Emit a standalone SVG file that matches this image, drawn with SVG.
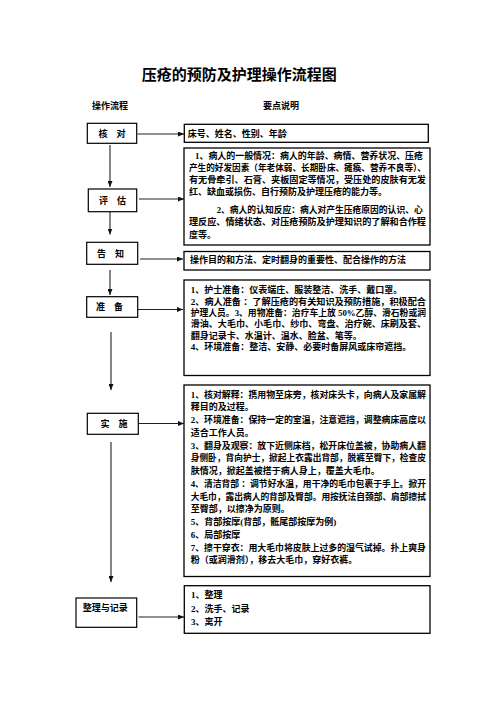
<svg xmlns="http://www.w3.org/2000/svg" width="496" height="702" viewBox="0 0 496 702">
<defs>
<marker id="ah" markerUnits="userSpaceOnUse" markerWidth="6" markerHeight="5" refX="6" refY="2.5" orient="auto">
<path d="M0,0 L6,2.5 L0,5 Z" fill="#111"/>
</marker>
<style>
.bx{fill:#fff;stroke:#000;stroke-width:1.2}
.rb{fill:#fff;stroke:#000;stroke-width:1.3}
.t{font-family:"Liberation Serif","Noto Sans CJK SC",serif;font-weight:bold;font-size:9px;fill:#000}
.c{text-anchor:middle}
.ttl{font-family:"Noto Sans CJK SC",sans-serif;font-weight:bold;font-size:15px;fill:#000;text-anchor:middle}
.cn line{stroke:#222;stroke-width:1.1;fill:none}
</style>
</defs>
<rect width="496" height="702" fill="#fff"/>
<text class="ttl" x="239.2" y="79.5">压疮的预防及护理操作流程图</text>
<text class="t c" x="110" y="109.3">操作流程</text>
<text class="t c" x="281" y="109.3">要点说明</text>

<g id="connectors" class="cn">
<line x1="137.5" y1="134" x2="184" y2="134" marker-end="url(#ah)"/>
<line x1="139" y1="199" x2="184" y2="199" marker-end="url(#ah)"/>
<line x1="140" y1="259" x2="183" y2="259" marker-end="url(#ah)"/>
<line x1="136" y1="309.5" x2="183" y2="309.5" marker-end="url(#ah)"/>
<line x1="139" y1="423.5" x2="184" y2="423.5" marker-end="url(#ah)"/>
<line x1="138.5" y1="617" x2="184" y2="617" marker-end="url(#ah)"/>
<line x1="110" y1="145" x2="110" y2="187" marker-end="url(#ah)"/>
<line x1="110" y1="212" x2="110" y2="234.5" marker-end="url(#ah)"/>
<line x1="110" y1="270" x2="110" y2="295" marker-end="url(#ah)"/>
<line x1="111" y1="332" x2="111" y2="390" marker-end="url(#ah)"/>
<line x1="111" y1="442" x2="111" y2="582" marker-end="url(#ah)"/>
</g>

<g id="n-hedui">
<rect class="bx" x="87.3" y="123.3" width="49.4" height="20"/>
<text class="t c" x="112" y="137.3">核　对</text>
</g>
<g id="n-hedui-d">
<rect class="rb" x="184.3" y="124.3" width="244" height="18"/>
<text class="t" x="187.7" y="136.6">床号、姓名、性别、年龄</text>
</g>

<g id="n-pinggu">
<rect class="bx" x="88.3" y="189" width="48.4" height="22.7"/>
<text class="t c" x="112.5" y="203.6">评　估</text>
</g>
<g id="n-pinggu-d">
<rect class="rb" x="184" y="148" width="246" height="97"/>
<text class="t" x="195" y="159" textLength="228" lengthAdjust="spacingAndGlyphs">1、病人的一般情况：病人的年龄、病情、营养状况、压疮</text>
<text class="t" x="189" y="171.3" textLength="237" lengthAdjust="spacingAndGlyphs">产生的好发因素（年老体弱、长期卧床、瘫痪、营养不良等）、</text>
<text class="t" x="189" y="183.3" textLength="237" lengthAdjust="spacingAndGlyphs">有无骨牵引、石膏、夹板固定等情况，受压处的皮肤有无发</text>
<text class="t" x="189" y="195">红、缺血或损伤、自行预防及护理压疮的能力等。</text>
<text class="t" x="216.7" y="213.3" textLength="206" lengthAdjust="spacingAndGlyphs">2、病人的认知反应：病人对产生压疮原因的认识、心</text>
<text class="t" x="189" y="225" textLength="237" lengthAdjust="spacingAndGlyphs">理反应、情绪状态、对压疮预防及护理知识的了解和合作程</text>
<text class="t" x="189" y="238.3">度等。</text>
</g>

<g id="n-gaozhi">
<rect class="bx" x="86.7" y="242.3" width="51" height="22"/>
<text class="t c" x="110.5" y="256.5">告　知</text>
</g>
<g id="n-gaozhi-d">
<rect class="rb" x="184" y="251.5" width="246" height="18.5"/>
<text class="t" x="190" y="262.6">操作目的和方法、定时翻身的重要性、配合操作的方法</text>
</g>

<g id="n-zhunbei">
<rect class="bx" x="86.7" y="296.7" width="51" height="20.6"/>
<text class="t c" x="109.5" y="310">准　备</text>
</g>
<g id="n-zhunbei-d">
<rect class="rb" x="184" y="280" width="246" height="95.5"/>
<text class="t" x="190.7" y="293.3">1、护士准备：仪表端庄、服装整洁、洗手、戴口罩。</text>
<text class="t" x="190.7" y="304.6" textLength="235.3" lengthAdjust="spacingAndGlyphs">2、病人准备 ：了解压疮的有关知识及预防措施，积极配合</text>
<text class="t" x="190.7" y="316" textLength="235.3" lengthAdjust="spacingAndGlyphs">护理人员。3、用物准备：治疗车上放 50%乙醇、滑石粉或润</text>
<text class="t" x="190.7" y="327.3" textLength="235.3" lengthAdjust="spacingAndGlyphs">滑油、大毛巾、小毛巾、纱巾、弯盘、治疗碗、床刷及套、</text>
<text class="t" x="190.7" y="338.6">翻身记录卡、水温计、温水、脸盆、笔等。</text>
<text class="t" x="190.7" y="350">4、环境准备：整洁、安静、必要时备屏风或床帘遮挡。</text>
</g>

<g id="n-shishi">
<rect class="bx" x="87.3" y="413.3" width="51" height="21"/>
<text class="t c" x="114" y="426.8">实　施</text>
</g>
<g id="n-shishi-d">
<rect class="rb" x="184" y="385" width="246" height="191.5"/>
<text class="t" x="190.7" y="397.6" textLength="235.3" lengthAdjust="spacingAndGlyphs">1、核对解释：携用物至床旁，核对床头卡，向病人及家属解</text>
<text class="t" x="190.7" y="410.4">释目的及过程。</text>
<text class="t" x="190.7" y="423.1" textLength="235.3" lengthAdjust="spacingAndGlyphs">2、环境准备：保持一定的室温，注意遮挡，调整病床高度以</text>
<text class="t" x="190.7" y="435.9">适合工作人员。</text>
<text class="t" x="190.7" y="448.6" textLength="235.3" lengthAdjust="spacingAndGlyphs">3、翻身及观察：放下近侧床档，松开床位盖被，协助病人翻</text>
<text class="t" x="190.7" y="461.4" textLength="235.3" lengthAdjust="spacingAndGlyphs">身侧卧，背向护士，掀起上衣露出背部，脱裤至臀下，检查皮</text>
<text class="t" x="190.7" y="474.1">肤情况，掀起盖被搭于病人身上，覆盖大毛巾。</text>
<text class="t" x="190.7" y="486.9" textLength="235.3" lengthAdjust="spacingAndGlyphs">4、清洁背部 ：调节好水温，用干净的毛巾包裹于手上。掀开</text>
<text class="t" x="190.7" y="499.6" textLength="235.3" lengthAdjust="spacingAndGlyphs">大毛巾，露出病人的背部及臀部。用按抚法自颈部、肩部擦拭</text>
<text class="t" x="190.7" y="512.4">至臀部，以擦净为原则。</text>
<text class="t" x="190.7" y="525.1">5、背部按摩(背部，骶尾部按摩为例)</text>
<text class="t" x="190.7" y="537.9">6、局部按摩</text>
<text class="t" x="190.7" y="550.6" textLength="235.3" lengthAdjust="spacingAndGlyphs">7、擦干穿衣：用大毛巾将皮肤上过多的湿气试掉。扑上爽身</text>
<text class="t" x="190.7" y="563.4">粉（或润滑剂），移去大毛巾，穿好衣裤。</text>
</g>

<g id="n-zhengli">
<rect class="bx" x="76" y="598" width="60.7" height="29.3"/>
<text class="t" x="82.7" y="611">整理与记录</text>
</g>
<g id="n-zhengli-d">
<rect class="rb" x="184.3" y="585.7" width="245.7" height="47.6"/>
<text class="t" x="191" y="598.3">1、整理</text>
<text class="t" x="191" y="611.6">2、洗手、记录</text>
<text class="t" x="191" y="625">3、离开</text>
</g>
</svg>
